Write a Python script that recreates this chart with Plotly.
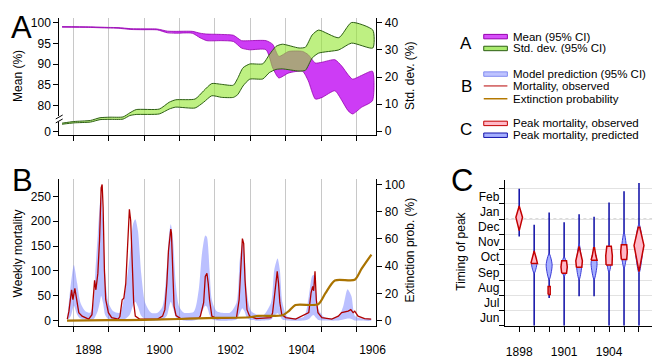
import plotly.graph_objects as go

W, H = 666, 358
OFF = 8  # page body margin
def px(x): return (x - OFF) / W
def py(y): return 1 - (y - OFF) / H

FONT = "Liberation Sans, Arial, sans-serif"

# ---------------- Panel A data ----------------
mean_t = [1897.25, 1898.0, 1898.56, 1898.83, 1899.19, 1899.53, 1899.94, 1900.22, 1900.44, 1900.92,
          1901.14, 1901.33, 1901.75, 1902.08, 1902.31, 1902.53, 1903.0, 1903.19, 1903.36, 1903.64,
          1904.03, 1904.19, 1904.39, 1904.58, 1904.94, 1905.14, 1905.31, 1905.44, 1905.69, 1906.0]
mean_lo = [98.95, 98.9, 98.75, 98.7, 98.4, 98.35, 98.3, 97.6, 97.5, 97.5,
           96.4, 95.7, 95.7, 95.5, 93.9, 93.5, 93.5, 89.1, 86.7, 87.9,
           88.3, 86.0, 81.6, 82.0, 83.6, 81.2, 78.8, 78.0, 79.6, 81.2]
mean_hi = [99.1, 99.05, 98.9, 98.85, 98.6, 98.55, 98.5, 98.0, 97.95, 97.95,
           97.5, 97.3, 97.2, 97.0, 95.7, 95.7, 95.7, 94.8, 91.9, 93.1,
           93.1, 92.3, 90.3, 90.5, 91.1, 89.5, 87.5, 86.4, 87.3, 88.3]

sd_t = [1897.25, 1897.58, 1898.05, 1898.32, 1898.6, 1898.97, 1899.16, 1899.34, 1899.99, 1900.27,
        1900.45, 1901.0, 1901.24, 1901.47, 1901.75, 1902.08, 1902.2, 1902.35, 1902.54, 1902.91,
        1903.09, 1903.28, 1903.46, 1903.93, 1904.11, 1904.3, 1904.48, 1905.05, 1905.41, 1906.01]
sd_lo = [2.6, 3.1, 3.4, 4.3, 4.4, 4.5, 5.8, 6.2, 6.4, 8.2,
         8.9, 8.6, 10.7, 13.1, 12.5, 12.5, 13.5, 16.7, 19.2, 19.3,
         21.6, 22.8, 23.0, 22.2, 22.5, 27.0, 28.8, 30.0, 32.5, 30.7]
sd_hi = [3.0, 3.6, 4.0, 5.0, 5.2, 5.3, 6.8, 8.0, 8.2, 10.7,
         11.6, 11.9, 14.9, 17.6, 17.3, 17.0, 19.5, 23.4, 24.8, 24.9,
         28.2, 31.3, 32.1, 30.7, 31.0, 35.5, 37.3, 34.5, 40.1, 37.3]

mean_tick_vals = [73.8, 80, 85, 90, 95, 100]
mean_tick_text = ["0", "80", "85", "90", "95", "100"]
sd_ticks = [0, 10, 20, 30, 40]

# ---------------- Panel B data ----------------
obs_t = [1897.398, 1897.444, 1897.519, 1897.556, 1897.611, 1897.648, 1897.722, 1897.815, 1898.0, 1898.093,
         1898.139, 1898.167, 1898.204, 1898.259, 1898.306, 1898.352, 1898.380, 1898.407, 1898.444, 1898.481,
         1898.556, 1898.648, 1898.833, 1898.880, 1898.944, 1898.991, 1899.046, 1899.093, 1899.148, 1899.185,
         1899.222, 1899.269, 1899.315, 1899.435, 1899.944, 1900.083, 1900.148, 1900.204, 1900.25, 1900.296,
         1900.315, 1900.333, 1900.370, 1900.407, 1900.463, 1900.593, 1901.102, 1901.148, 1901.241, 1901.287,
         1901.333, 1901.370, 1901.407, 1901.472, 1901.611, 1902.167, 1902.241, 1902.287, 1902.333, 1902.370,
         1902.407, 1902.463, 1902.537, 1902.722, 1903.139, 1903.185, 1903.259, 1903.315, 1903.352, 1903.389,
         1903.444, 1903.556, 1903.833, 1904.204, 1904.269, 1904.315, 1904.343, 1904.380, 1904.417, 1904.463,
         1904.574, 1904.852, 1905.037, 1905.130, 1905.315, 1905.389, 1905.454, 1905.5, 1905.593, 1905.778,
         1905.963]
obs_v = [3, 19, 62, 42, 65, 49, 16, 9, 3, 12,
         62, 81, 62, 95, 161, 267, 274, 228, 102, 42,
         16, 6, 3, 8, 42, 45, 75, 141, 224, 201,
         128, 36, 9, 3, 3, 9, 22, 75, 141, 181,
         184, 176, 95, 29, 10, 4, 5, 9, 36, 89,
         95, 75, 42, 9, 4, 6, 42, 115, 165, 155,
         82, 22, 9, 4, 6, 16, 69, 99, 75, 36,
         12, 6, 3, 16, 56, 69, 60, 99, 42, 16,
         6, 3, 9, 16, 19, 22, 16, 19, 9, 4,
         3]

band_t = [1897.398, 1897.5, 1897.583, 1897.676, 1897.769, 1897.907, 1898.046, 1898.139, 1898.185, 1898.259,
          1898.324, 1898.352, 1898.407, 1898.463, 1898.556, 1898.694, 1898.880, 1899.019, 1899.157, 1899.25,
          1899.315, 1899.389, 1899.481, 1899.593, 1899.759, 1899.944, 1900.083, 1900.204, 1900.269, 1900.315,
          1900.380, 1900.454, 1900.546, 1900.685, 1900.963, 1901.102, 1901.194, 1901.287, 1901.333, 1901.407,
          1901.472, 1901.611, 1901.981, 1902.167, 1902.259, 1902.333, 1902.398, 1902.463, 1902.583, 1902.907,
          1903.139, 1903.231, 1903.324, 1903.389, 1903.463, 1903.602, 1904.065, 1904.204, 1904.296, 1904.343,
          1904.407, 1904.481, 1904.667, 1905.037, 1905.176, 1905.296, 1905.407, 1905.5, 1905.639, 1905.963]
band_hi = [6, 75, 112, 75, 36, 19, 16, 40, 95, 175,
           241, 254, 201, 95, 36, 19, 16, 56, 128, 194,
           204, 181, 95, 36, 16, 16, 29, 108, 175, 194,
           161, 75, 29, 16, 18, 62, 135, 171, 168, 102,
           42, 19, 16, 36, 122, 155, 128, 56, 19, 10,
           36, 102, 125, 102, 36, 8, 8, 49, 89, 92,
           62, 22, 6, 8, 29, 63, 49, 10, 5, 3]
band_lo = [0, 10, 30, 12, 4, 2, 1, 3, 8, 20,
           40, 50, 35, 12, 3, 1, 0, 3, 12, 30,
           38, 28, 10, 3, 0, 0, 2, 10, 28, 38,
           25, 8, 2, 0, 0, 4, 18, 30, 28, 12,
           3, 0, 0, 2, 15, 25, 18, 5, 1, 0,
           2, 10, 15, 10, 2, 0, 0, 3, 10, 11,
           6, 1, 0, 0, 2, 4, 3, 0, 0, 0]

ext_t = [1897.39, 1898.56, 1899.56, 1900.56, 1901.61, 1902.53, 1902.78, 1903.47, 1903.64, 1903.83,
         1904.47, 1904.67, 1904.94, 1905.5, 1905.69, 1905.97]
ext_v = [0, 0.3, 0.6, 1.2, 2.0, 2.5, 3.5, 4.0, 7.0, 11.5,
         12.0, 20.0, 29.5, 30.0, 38.0, 48.5]

season_starts = [1897.56, 1898.56, 1899.56, 1900.56, 1901.56, 1902.56, 1903.56, 1904.56, 1905.56]
year_labels = [1898, 1900, 1902, 1904, 1906]
mort_ticks = [0, 50, 100, 150, 200, 250]
ext_ticks = [0, 20, 40, 60, 80, 100]

# ---------------- Panel C data ----------------
c_years = [1898, 1899, 1900, 1901, 1902, 1903, 1904, 1905, 1906]
c_year_text = ["1898", "", "", "1901", "", "", "1904", "", ""]
# months after 1 June
red_lo = [6.25, 4.10, 2.05, 3.45, 3.84, 4.31, 3.99, 4.36, 3.56]
red_lo_w = [0.0, 0.22, 0.07, 0.16, 0.18, 0.20, 0.20, 0.18, 0.0]
red_mid = [7.12, 4.50, 2.32, 3.86, 4.27, 4.60, 4.60, 4.85, 5.28]
red_mid_w = [0.22, 0.12, 0.07, 0.21, 0.22, 0.12, 0.22, 0.22, 0.33]
red_hi = [7.87, 4.92, 2.59, 4.27, 5.22, 5.13, 5.22, 5.33, 6.47]
red_hi_w = [0.0, 0.0, 0.07, 0.16, 0.0, 0.03, 0.15, 0.18, 0.05]

blue_lo = [6.5, 3.45, 3.02, 3.24, 3.02, 3.02, 3.5, 3.77, 3.45]
blue_mid = [7.1, 4.10, 3.99, 3.90, 3.90, 4.10, 4.3, 4.80, 5.20]
blue_hi = [7.7, 4.53, 4.74, 4.53, 5.39, 4.96, 5.3, 6.15, 6.69]
blue_w = [0.12, 0.18, 0.20, 0.18, 0.17, 0.20, 0.16, 0.18, 0.25]

whisk_lo = [5.86, 0.0, 1.83, 0.0, 1.94, 1.94, 0.0, 0.0, 0.0]
whisk_hi = [9.0, 6.64, 7.44, 6.8, 7.33, 7.16, 8.09, 8.84, 9.38]

month_bounds = [0, 1, 2, 3, 4, 5, 6, 7, 8, 9]
month_centers = [0.5, 1.5, 2.5, 3.5, 4.5, 5.5, 6.5, 7.5, 8.5]
month_names = ["Jun", "Jul", "Aug", "Sep", "Oct", "Nov", "Dec", "Jan", "Feb"]
new_year = 7

# ---------------- Figure ----------------
fig = go.Figure()

def band(t, lo, hi):
    return list(t) + list(t[::-1]), list(hi) + list(lo[::-1])

# A: mean
bx, by = band(mean_t, mean_lo, mean_hi)
fig.add_trace(go.Scatter(x=bx, y=by, fill="toself", fillcolor="rgb(205,60,245)",
                         line=dict(color="rgb(150,0,175)", width=0.8, shape="spline", smoothing=0.6),
                         mode="lines", xaxis="x", yaxis="y", hoverinfo="skip"))
# A: std
bx, by = band(sd_t, sd_lo, sd_hi)
fig.add_trace(go.Scatter(x=bx, y=by, fill="toself", fillcolor="rgba(147,230,47,0.6)",
                         line=dict(color="rgb(45,95,20)", width=1, shape="spline", smoothing=0.6),
                         mode="lines", xaxis="x", yaxis="y2", hoverinfo="skip"))

# B: model band
bx, by = band(band_t, band_lo, band_hi)
fig.add_trace(go.Scatter(x=bx, y=by, fill="toself", fillcolor="rgba(120,130,255,0.5)",
                         line=dict(width=0, shape="spline", smoothing=0.7),
                         mode="lines", xaxis="x2", yaxis="y3", hoverinfo="skip"))
fig.add_trace(go.Scatter(x=obs_t, y=obs_v, mode="lines",
                         line=dict(color="rgb(175,0,0)", width=1.3),
                         xaxis="x2", yaxis="y3", hoverinfo="skip"))
fig.add_trace(go.Scatter(x=ext_t, y=ext_v, mode="lines",
                         line=dict(color="rgb(170,115,0)", width=2.2, shape="spline", smoothing=0.7),
                         xaxis="x2", yaxis="y4", hoverinfo="skip"))
fig.add_trace(go.Scatter(x=[], y=[], xaxis="x3", yaxis="y3", showlegend=False))

# C: whiskers
for i, c in enumerate(c_years):
    fig.add_trace(go.Scatter(x=[c, c], y=[whisk_lo[i], whisk_hi[i]], mode="lines",
                             line=dict(color="rgb(10,10,165)", width=1.5),
                             xaxis="x4", yaxis="y5", hoverinfo="skip"))
# C: predicted violins
for i, c in enumerate(c_years):
    xs = [c, c - blue_w[i], c, c + blue_w[i], c]
    ys = [blue_lo[i], blue_mid[i], blue_hi[i], blue_mid[i], blue_lo[i]]
    fig.add_trace(go.Scatter(x=xs, y=ys, fill="toself", fillcolor="rgb(165,175,255)",
                             line=dict(color="rgb(60,60,215)", width=1, shape="spline", smoothing=0.8),
                             mode="lines", xaxis="x4", yaxis="y5", hoverinfo="skip"))
# C: observed violins
for i, c in enumerate(c_years):
    xs = [c - red_lo_w[i], c - red_mid_w[i], c - red_hi_w[i], c + red_hi_w[i], c + red_mid_w[i], c + red_lo_w[i], c - red_lo_w[i]]
    ys = [red_lo[i], red_mid[i], red_hi[i], red_hi[i], red_mid[i], red_lo[i], red_lo[i]]
    fig.add_trace(go.Scatter(x=xs, y=ys, fill="toself", fillcolor="rgb(255,185,200)",
                             line=dict(color="rgb(195,0,0)", width=1.5),
                             mode="lines", xaxis="x4", yaxis="y5", hoverinfo="skip"))
fig.add_trace(go.Scatter(x=[], y=[], xaxis="x4", yaxis="y6", showlegend=False))

axis_common = dict(showline=True, linecolor="black", linewidth=1, ticks="outside", ticklen=5,
                   tickcolor="black", tickfont=dict(size=12, color="black"), zeroline=False)
xA = [1897.17, 1906.11]
xdom = [px(60), px(382)]

fig.update_layout(
    width=W, height=H, margin=dict(l=0, r=0, t=0, b=0),
    paper_bgcolor="white", plot_bgcolor="white", showlegend=False,
    font=dict(family=FONT, size=12, color="black"),
    xaxis=dict(domain=xdom, anchor="y", range=xA, tickvals=season_starts, showticklabels=False,
               showgrid=True, gridcolor="#C8C8C8", gridwidth=1, **axis_common),
    yaxis=dict(domain=[py(135), py(16)], anchor="x", range=[72.86, 101.2],
               tickvals=mean_tick_vals, ticktext=mean_tick_text, showgrid=False, **axis_common),
    yaxis2=dict(overlaying="y", side="right", anchor="x", range=[-1.45, 41.8],
                tickvals=sd_ticks, showgrid=False, **axis_common),
    xaxis2=dict(domain=xdom, anchor="y3", range=xA, tickvals=season_starts, showticklabels=False,
                showgrid=True, gridcolor="#C8C8C8", gridwidth=1, **axis_common),
    xaxis3=dict(overlaying="x2", anchor="y3", range=xA, tickvals=year_labels, ticks="",
                showgrid=False, showline=False, zeroline=False, ticklabelstandoff=15,
                tickfont=dict(size=12, color="black")),
    yaxis3=dict(domain=[py(328), py(179)], anchor="x2", range=[-9.9, 285.7],
                tickvals=mort_ticks, showgrid=False, **axis_common),
    yaxis4=dict(overlaying="y3", side="right", anchor="x2", range=[-3.6, 104.3],
                tickvals=ext_ticks, showgrid=False, **axis_common),
    xaxis4=dict(domain=[px(513), px(662)], anchor="y5", range=[1897.08, 1906.88],
                tickvals=c_years, ticktext=c_year_text, showgrid=False, ticklabelstandoff=10,
                **axis_common),
    yaxis5=dict(domain=[py(328.3), py(180)], anchor="x4", range=[0, 9.6],
                tickvals=month_bounds, showticklabels=False, showgrid=True, gridcolor="#E2E2E2",
                **axis_common),
    yaxis6=dict(overlaying="y5", anchor="x4", range=[0, 9.6], tickvals=month_centers,
                ticktext=month_names, ticks="", showgrid=False, showline=False, zeroline=False,
                ticklabelstandoff=5, tickfont=dict(size=12, color="black")),
)

shapes = []
# Jan 1 dotted reference line in C
shapes.append(dict(type="line", xref="x4", yref="y5", x0=1897.08, x1=1906.88, y0=new_year, y1=new_year,
                   line=dict(color="#888888", width=1, dash="dot"), layer="below"))
# axis break on A left axis
shapes.append(dict(type="rect", xref="paper", yref="paper", x0=px(58), x1=px(62), y0=py(121.5), y1=py(115.5),
                   fillcolor="white", line=dict(width=0)))
shapes.append(dict(type="line", xref="paper", yref="paper", x0=px(56.5), x1=px(63.5), y0=py(118.5), y1=py(114.5),
                   line=dict(color="black", width=1)))
shapes.append(dict(type="line", xref="paper", yref="paper", x0=px(56.5), x1=px(63.5), y0=py(122.5), y1=py(118.5),
                   line=dict(color="black", width=1)))

# legend samples
def leg_rect(yc, fill, edge, h=4.5):
    shapes.append(dict(type="rect", xref="paper", yref="paper", x0=px(491), x1=px(515),
                       y0=py(yc + h / 2), y1=py(yc - h / 2), fillcolor=fill, line=dict(color=edge, width=1)))
def leg_line(yc, color, w):
    shapes.append(dict(type="line", xref="paper", yref="paper", x0=px(491), x1=px(515),
                       y0=py(yc), y1=py(yc), line=dict(color=color, width=w)))

leg_rect(35, "rgb(215,80,250)", "rgb(150,0,175)")
leg_rect(47, "rgb(170,235,110)", "rgb(45,95,20)")
leg_rect(73, "rgb(190,195,255)", "rgb(130,140,240)")
leg_line(85, "rgb(200,60,60)", 1.3)
leg_line(98, "rgb(180,120,0)", 1.5)
leg_rect(123, "rgb(255,185,200)", "rgb(195,0,0)")
leg_rect(135, "rgb(165,175,255)", "rgb(20,20,170)")

annotations = []
def txt(x, y, s, size=12, xanchor="left", angle=0):
    annotations.append(dict(x=px(x), y=py(y), xref="paper", yref="paper", text=s, showarrow=False,
                            xanchor=xanchor, yanchor="middle", textangle=angle,
                            font=dict(size=size, color="black", family=FONT)))

LS = 11.5
txt(519, 35, "Mean (95% CI)", LS)
txt(519, 47, "Std. dev. (95% CI)", LS)
txt(519, 73, "Model prediction (95% CI)", LS)
txt(519, 85, "Mortality, observed", LS)
txt(519, 98, "Extinction probability", LS)
txt(519, 123, "Peak mortality, observed", LS)
txt(519, 135, "Peak mortality, predicted", LS)
txt(473, 42, "A", size=17, xanchor="center")
txt(473, 86, "B", size=17, xanchor="center")
txt(473, 129, "C", size=17, xanchor="center")

txt(22, 26, "A", size=31, xanchor="center")
txt(23, 181, "B", size=31, xanchor="center")
txt(469, 181, "C", size=31, xanchor="center")

txt(18, 75, "Mean (%)", xanchor="center", angle=-90)
txt(416, 75, "Std. dev. (%)", xanchor="center", angle=-90)
txt(18, 255, "Weekly mortality", xanchor="center", angle=-90)
txt(416, 251, "Extinction prob. (%)", xanchor="center", angle=-90)
txt(467, 253, "Timing of peak", xanchor="center", angle=-90)

fig.update_layout(shapes=shapes, annotations=annotations)
fig.write_html("out.html")
